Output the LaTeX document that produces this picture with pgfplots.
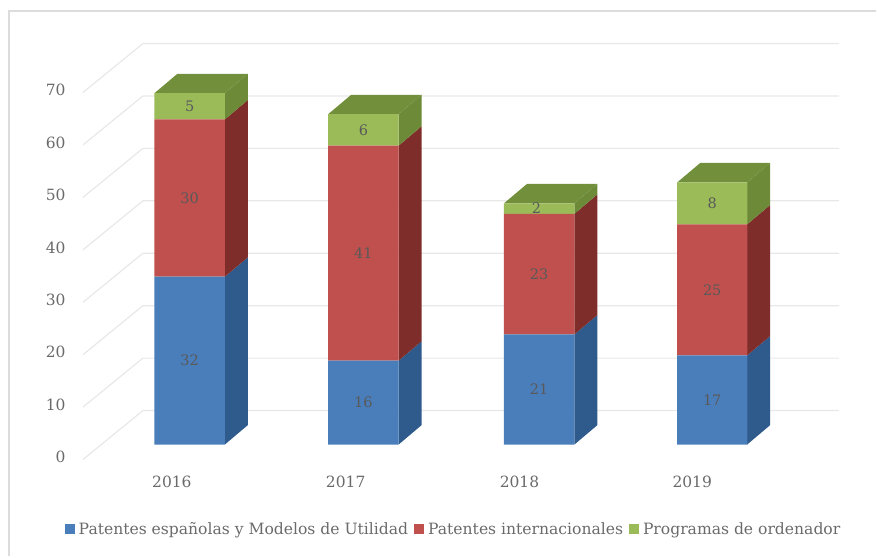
\documentclass[border=0pt]{standalone}
\usepackage{pgfplots}
\pgfplotsset{compat=1.18}
\usepackage{fontspec}
\setmainfont{DejaVu Serif}
\definecolor{bluef}{HTML}{4A7EBB}
\definecolor{blues}{HTML}{2F5A8C}
\definecolor{redf}{HTML}{C0504D}
\definecolor{reds}{HTML}{7F2D2B}
\definecolor{greenf}{HTML}{9BBB59}
\definecolor{greens}{HTML}{6C8A38}
\definecolor{greent}{HTML}{728F3B}
\definecolor{gridc}{HTML}{E8E8E8}
\definecolor{framec}{HTML}{DCDCDC}
\definecolor{txt}{HTML}{6A6A6A}
\pgfplotsset{
  base/.style={
    scale only axis, width=877pt, height=557pt,
    xmin=0, xmax=877, ymin=-21.33, ymax=84.76,
    axis line style={draw=none}, major tick length=0pt, clip=false,
  },
  none/.style={base, xtick=\empty, ytick=\empty},
  face/.style={fill=#1, draw=none, forget plot},
}
\begin{document}
\begin{tikzpicture}
% frame, walls, side and top faces
\begin{axis}[base,
  xtick={172,346,520,693}, xticklabels={2016,2017,2018,2019},
  xticklabel style={font=\fontsize{15.5}{18}\selectfont, text=txt, anchor=center, yshift=75pt},
  ytick={-2.4,7.6,17.6,27.6,37.6,47.6,57.6,67.6},
  yticklabels={0,10,20,30,40,50,60,70},
  yticklabel style={font=\fontsize{15.5}{18}\selectfont, text=txt, anchor=east, xshift=69pt},
]
\addplot[framec, line width=2pt, forget plot] coordinates {(9,-21.33)(9,82.67)(877,82.67)};
\foreach \v in {0,10,...,70}{
  \addplot[gridc, line width=1.2pt, forget plot] coordinates {(83,\v-2.86)(143,\v+6.48)(840,\v+6.48)};
}
% side faces: (right edge, low), (right edge + depth, low + rise) ...
\addplot[face=blues] coordinates {(225,0)(248,3.7)(248,35.7)(225,32)} --cycle;
\addplot[face=reds] coordinates {(225,32)(248,35.7)(248,65.7)(225,62)} --cycle;
\addplot[face=greens] coordinates {(225,62)(248,65.7)(248,70.7)(225,67)} --cycle;
\addplot[face=greent] coordinates {(154.5,67)(177.5,70.7)(248,70.7)(225,67)} --cycle;
\addplot[face=blues] coordinates {(399,0)(422,3.7)(422,19.7)(399,16)} --cycle;
\addplot[face=reds] coordinates {(399,16)(422,19.7)(422,60.7)(399,57)} --cycle;
\addplot[face=greens] coordinates {(399,57)(422,60.7)(422,66.7)(399,63)} --cycle;
\addplot[face=greent] coordinates {(328.5,63)(351.5,66.7)(422,66.7)(399,63)} --cycle;
\addplot[face=blues] coordinates {(575,0)(598,3.7)(598,24.7)(575,21)} --cycle;
\addplot[face=reds] coordinates {(575,21)(598,24.7)(598,47.7)(575,44)} --cycle;
\addplot[face=greens] coordinates {(575,44)(598,47.7)(598,49.7)(575,46)} --cycle;
\addplot[face=greent] coordinates {(504.5,46)(527.5,49.7)(598,49.7)(575,46)} --cycle;
\addplot[face=blues] coordinates {(748,0)(771,3.7)(771,20.7)(748,17)} --cycle;
\addplot[face=reds] coordinates {(748,17)(771,20.7)(771,45.7)(748,42)} --cycle;
\addplot[face=greens] coordinates {(748,42)(771,45.7)(771,53.7)(748,50)} --cycle;
\addplot[face=greent] coordinates {(678,50)(701,53.7)(771,53.7)(748,50)} --cycle;
\end{axis}
% front faces
\begin{axis}[none, ybar stacked, bar width=70.5pt,
  legend style={at={(axis cs:454,-16.2)}, anchor=center, draw=none, fill=none,
    legend columns=-1, font=\fontsize{15.6}{18}\selectfont, text=txt,
    inner xsep=0pt, inner ysep=0pt,
    /tikz/every even column/.append style={column sep=4pt},
    /tikz/every odd column/.append style={column sep=2pt}},
  legend image code/.code={\fill[#1] (0pt,-5pt) rectangle (10pt,6pt);},
]
\addplot[fill=bluef, draw=none] coordinates {(189.75,32)(363.75,16)(539.75,21)(713,17)};
\addplot[fill=redf, draw=none] coordinates {(189.75,30)(363.75,41)(539.75,23)(713,25)};
\addplot[fill=greenf, draw=none] coordinates {(189.75,5)(363.75,6)(539.75,2)(713,8)};
\legend{Patentes españolas y Modelos de Utilidad, Patentes internacionales, Programas de ordenador}
\end{axis}
% data labels
\begin{axis}[none]
\addplot[draw=none, mark=none, nodes near coords, point meta=explicit symbolic,
  every node near coord/.style={anchor=center, font=\fontsize{14.5}{17}\selectfont, text=black!65}]
coordinates {
 (189.75,16)[32] (189.75,47)[30] (189.75,64.5)[5]
 (363.75,8)[16] (363.75,36.5)[41] (363.75,60)[6]
 (539.75,10.5)[21] (539.75,32.5)[23] (537,45)[2]
 (713,8.5)[17] (713,29.5)[25] (713,46)[8]
};
\end{axis}
\end{tikzpicture}
\end{document}
